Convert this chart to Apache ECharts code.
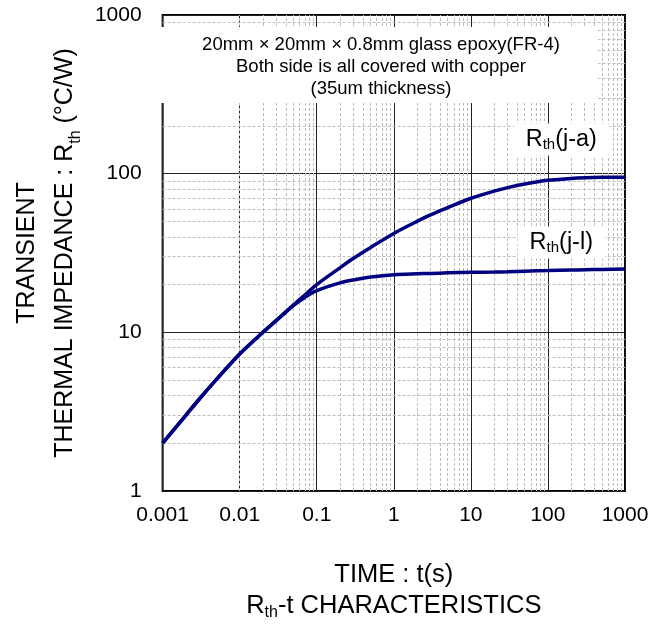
<!DOCTYPE html>
<html>
<head>
<meta charset="utf-8">
<script src="https://cdn.jsdelivr.net/npm/echarts@6/dist/echarts.min.js"></script>
<style>
html,body{margin:0;padding:0;background:#fff;}
#chart{width:664px;height:626px;}
</style>
</head>
<body>
<div id="chart"></div>
<script>
// ---- data ----
const TIME_S = [0.001, 0.002, 0.003, 0.005, 0.01, 0.02, 0.03, 0.05, 0.07, 0.1, 0.2, 0.3, 0.5, 1, 2, 3, 5, 10, 20, 30, 50, 100, 200, 300, 500, 1000];
const RTH_JA = [2.0, 3.0, 3.8, 5.05, 7.3, 10.0, 11.9, 14.9, 17.2, 20.0, 25.5, 29.3, 34.3, 42.0, 50.0, 55.0, 61.1, 70.0, 77.6, 81.7, 86.1, 90.8, 93.3, 94.2, 94.8, 95.0];
const RTH_JL = [2.0, 3.0, 3.8, 5.05, 7.3, 10.0, 11.9, 14.8, 16.6, 18.3, 20.5, 21.4, 22.3, 23.1, 23.4, 23.5, 23.7, 23.9, 24.0, 24.1, 24.3, 24.5, 24.7, 24.8, 24.9, 25.1];
const X_DECADES = [0.001, 0.01, 0.1, 1, 10, 100];
const Y_DECADES = [1, 10, 100];
const MINOR_STEPS = [2, 3, 4, 5, 6, 7, 8, 9];
const X_TICK_LABELS = ['0.001', '0.01', '0.1', '1', '10', '100', '1000'];
const Y_TICK_LABELS = ['1', '10', '100', '1000'];
const NOTE_LINES = ['20mm \u00d7 20mm \u00d7 0.8mm glass epoxy(FR-4)', 'Both side is all covered with copper', '(35um thickness)'];

const FONT = "'Liberation Sans', Arial, sans-serif";
const minorX = [];
X_DECADES.forEach(d => MINOR_STEPS.forEach(k => minorX.push(+(d * k).toPrecision(3))));
const minorY = [];
Y_DECADES.forEach(d => MINOR_STEPS.forEach(k => minorY.push(+(d * k).toPrecision(3))));

function fmt(labels) {
  return function (v) {
    const s = String(+Number(v).toPrecision(2));
    return labels.indexOf(s) >= 0 ? s : '';
  };
}

const chart = echarts.init(document.getElementById('chart'), null, {renderer: 'canvas'});
const subRich = (main, mainLH, sub, subLH) => ({
  n: {fontSize: main, lineHeight: mainLH, fontFamily: FONT, color: '#000'},
  s: {fontSize: sub, lineHeight: subLH, verticalAlign: 'bottom', fontFamily: FONT, color: '#000'}
});

const option = {
  animation: false,
  backgroundColor: '#fff',
  textStyle: {fontFamily: FONT},
  grid: {left: 159, right: 39, top: 15, bottom: 130, show: true, borderColor: '#000', borderWidth: 2, backgroundColor: 'transparent'},
  xAxis: {
    type: 'log', logBase: 10, min: 0.001, max: 1000,
    axisLine: {show: false}, axisTick: {show: false},
    splitLine: {show: true, lineStyle: {color: '#222', width: 1}},
    axisLabel: {fontSize: 21, color: '#000', margin: 14, fontFamily: FONT, formatter: fmt(X_TICK_LABELS)},
    name: '{n|TIME : t(s)}\n{n|R}{s|th}{n|-t CHARACTERISTICS}',
    nameLocation: 'middle', nameGap: 68,
    nameTextStyle: {fontSize: 25.5, lineHeight: 31, color: '#000', rich: subRich(25.5, 31, 16, 10)}
  },
  yAxis: {
    type: 'log', logBase: 10, min: 1, max: 1000,
    axisLine: {show: false}, axisTick: {show: false},
    splitLine: {show: true, lineStyle: {color: '#222', width: 1}},
    axisLabel: {fontSize: 21, color: '#000', margin: 21, fontFamily: FONT, formatter: fmt(Y_TICK_LABELS)},
    name: '{n|TRANSIENT}\n{n|THERMAL IMPEDANCE : R}{s|th}{n| (\u00b0C/W)}',
    nameLocation: 'middle', nameRotate: 90, nameGap: 74,
    nameTextStyle: {fontSize: 25, lineHeight: 38, color: '#000', rich: subRich(25, 38, 16, 20)}
  },
  graphic: {
    z: 3,
    elements: [
      {type: 'rect', z: 3, shape: {x: 160, y: 27, width: 438, height: 76}, style: {fill: '#fff'}},
      {type: 'text', z: 4, x: 381, y: 67,
       style: {text: NOTE_LINES.join('\n'), align: 'center', verticalAlign: 'middle', font: "18.5px 'Liberation Sans', Arial, sans-serif", lineHeight: 22, fill: '#000'}}
    ]
  },
  series: [
    {
      name: 'minor grid', type: 'line', data: [], z: 1, silent: true,
      markLine: {
        z: 1, silent: true, symbol: ['none', 'none'], animation: false,
        label: {show: false},
        lineStyle: {type: [3, 2], color: '#bdbdbd', width: 1},
        emphasis: {disabled: true},
        data: minorX.map(v => ({xAxis: v})).concat(minorY.map(v => ({yAxis: v})))
      }
    },
    {
      name: 'Rth(j-a)', type: 'line', z: 5, smooth: 0.3, showSymbol: false,
      lineStyle: {color: '#000080', width: 3.5}, itemStyle: {color: '#000080'},
      data: TIME_S.map((t, i) => [t, RTH_JA[i]]),
      markPoint: {
        z: 6, symbol: 'rect', symbolSize: 1, itemStyle: {color: 'rgba(0,0,0,0)'}, silent: true,
        label: {show: true, position: 'inside', backgroundColor: '#fff', padding: [3, 12],
                formatter: '{n|R}{s|th}{n|(j-a)}', rich: subRich(23.5, 26, 15, 10)},
        data: [{coord: [149, 164]}]
      }
    },
    {
      name: 'Rth(j-l)', type: 'line', z: 5, smooth: 0.3, showSymbol: false,
      lineStyle: {color: '#000080', width: 3.5}, itemStyle: {color: '#000080'},
      data: TIME_S.map((t, i) => [t, RTH_JL[i]]),
      markPoint: {
        z: 6, symbol: 'rect', symbolSize: 1, itemStyle: {color: 'rgba(0,0,0,0)'}, silent: true,
        label: {show: true, position: 'inside', backgroundColor: '#fff', padding: [3, 12],
                formatter: '{n|R}{s|th}{n|(j-l)}', rich: subRich(23.5, 26, 15, 10)},
        data: [{coord: [149, 36.8]}]
      }
    }
  ]
};
chart.setOption(option);
</script>
</body>
</html>
